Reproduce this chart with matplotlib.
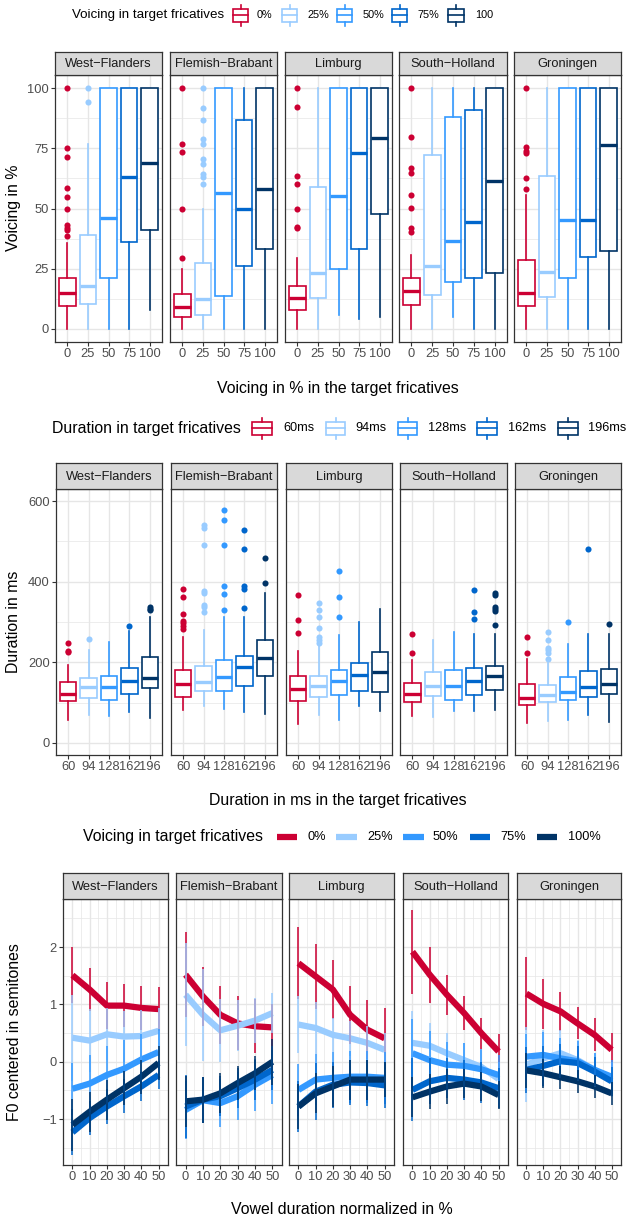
import matplotlib.pyplot as plt
from matplotlib.patches import Rectangle

plt.rcParams['font.family'] = ['Liberation Sans', 'DejaVu Sans']

W, H = 628, 1220

regions = ["West-Flanders", "Flemish-Brabant", "Limburg", "South-Holland", "Groningen"]
level_colours = ["#CC0033", "#99CCFF", "#3399FF", "#0066CC", "#003366"]

voicing_ticks = ["0", "25", "50", "75", "100"]
voicing_legend = ["0%", "25%", "50%", "75%", "100"]
duration_ticks = ["60", "94", "128", "162", "196"]
duration_legend = ["60ms", "94ms", "128ms", "162ms", "196ms"]
f0_legend = ["0%", "25%", "50%", "75%", "100%"]

# box summaries per level: whisker low, Q1, median, Q3, whisker high
voicing_box = {
    "West-Flanders": [[0, 9.6, 14.7, 20.9, 35.5], [0, 10.3, 17.6, 38.8, 76.8], [0, 20.9, 45.9, 100, 100],
                      [0, 36.2, 62.9, 100, 100], [7.6, 41.1, 68.9, 100, 100]],
    "Flemish-Brabant": [[0, 5.0, 9.2, 14.4, 24.8], [0, 5.8, 12.5, 27.4, 49.8], [0, 13.8, 56.3, 100, 100],
                        [0, 26.1, 49.8, 86.8, 100], [0, 33.3, 58.3, 100, 100]],
    "Limburg": [[0, 8.0, 12.8, 17.6, 29.3], [0, 12.7, 23.0, 59.1, 100], [5.9, 24.9, 55.2, 100, 100],
                [4.1, 33.1, 73.2, 100, 100], [4.8, 47.6, 79.5, 100, 100]],
    "South-Holland": [[0, 10.0, 15.8, 21.3, 30.5], [0, 13.9, 26.1, 72.4, 100], [4.8, 19.3, 36.5, 88.0, 100],
                      [0, 21.0, 44.4, 90.8, 100], [0, 23.0, 61.6, 100, 100]],
    "Groningen": [[0, 9.4, 14.7, 28.6, 55.6], [0, 13.2, 23.5, 63.7, 100], [0, 21.3, 45.4, 100, 100],
                  [0, 29.8, 45.1, 100, 100], [0, 32.5, 76.3, 100, 100]],
}
voicing_fliers = {
    "West-Flanders": [[100, 75, 71.4, 58.5, 54.6, 50, 43, 42, 41, 38.5], [100, 94.1], [], [], []],
    "Flemish-Brabant": [[100, 76.9, 73.6, 50, 29.4],
                        [100, 91.6, 86.9, 79, 76.8, 70.4, 68.4, 64.2, 62.9, 60], [], [], []],
    "Limburg": [[100, 92.3, 63.5, 60, 50, 42.5, 42], [], [], [], []],
    "South-Holland": [[100, 79.9, 66.9, 64.6, 55.6, 50.1, 42, 40.2], [], [], [], []],
    "Groningen": [[100, 75.4, 74.1, 72.9, 62.6, 58.3], [], [], [], []],
}

duration_box = {
    "West-Flanders": [[57.7, 103, 122, 151.6, 193.7], [70, 111, 137.6, 160, 230.8], [67.6, 107, 137.6, 166.5, 250],
                      [75.8, 122, 154, 187, 277.7], [61.8, 136, 160.7, 212.6, 313]],
    "Flemish-Brabant": [[82.4, 115, 146.7, 179.7, 263.7], [92, 127.8, 151.7, 191, 280], [84, 129.4, 163, 206, 313],
                        [75.8, 141.8, 188, 216.8, 311.5], [71.7, 164.8, 210, 255.5, 371]],
    "Limburg": [[47.8, 104.7, 133.5, 164.8, 228], [70, 115, 141.8, 166.5, 240], [56, 119.5, 154, 181, 268],
                [92, 127.8, 169, 197.8, 299], [78.3, 126, 177, 226.7, 332]],
    "South-Holland": [[66, 100.5, 122, 148, 206], [64, 117, 141.8, 174.7, 255.5], [78.3, 105.5, 141.8, 179.7, 274.5],
                      [78.3, 119.5, 152.5, 185.4, 269.5], [82.4, 131.9, 164.8, 191, 269.5]],
    "Groningen": [[49.5, 94, 111, 145, 208.5], [53.6, 101, 119.5, 142.6, 198], [57.7, 106.3, 126, 163, 244.8],
                  [69, 113, 138.5, 178.9, 270], [51, 121, 146.7, 184.6, 269.5]],
}
duration_fliers = {
    "West-Flanders": [[248.9, 229, 225], [257], [], [290], [338, 333, 329]],
    "Flemish-Brabant": [[381.6, 361, 320, 303, 296.7, 290, 282], [540, 534, 490, 378, 373, 342, 336, 325],
                        [577, 554, 491, 389, 370, 331], [527.5, 480, 389, 382, 333.8], [459, 397]],
    "Limburg": [[368, 305, 273.6], [346, 330, 313, 284, 264, 255.5, 249], [426, 362.6, 313], [], []],
    "South-Holland": [[269.5, 224], [], [], [379, 325, 306.6], [371, 368, 338, 333, 326.4, 291.8]],
    "Groningen": [[262, 224], [275, 255.5, 235, 230.8, 222.5, 207.7], [300.8], [480], [296]],
}

f0_time = [0, 10, 20, 30, 40, 50]
f0_mean = {
    "West-Flanders": [[1.51, 1.26, 0.98, 0.98, 0.94, 0.92], [0.42, 0.37, 0.48, 0.44, 0.45, 0.54],
                      [-0.47, -0.38, -0.23, -0.12, 0.04, 0.17], [-1.23, -0.98, -0.78, -0.6, -0.43, -0.23],
                      [-1.1, -0.87, -0.66, -0.46, -0.26, -0.02]],
    "Flemish-Brabant": [[1.52, 1.14, 0.82, 0.67, 0.62, 0.6], [1.17, 0.82, 0.55, 0.63, 0.72, 0.85],
                        [-0.84, -0.67, -0.72, -0.6, -0.4, -0.23], [-0.78, -0.66, -0.6, -0.46, -0.31, -0.14],
                        [-0.69, -0.66, -0.55, -0.37, -0.2, 0.0]],
    "Limburg": [[1.72, 1.49, 1.26, 0.82, 0.56, 0.41], [0.65, 0.59, 0.47, 0.41, 0.33, 0.21],
                [-0.49, -0.31, -0.28, -0.26, -0.26, -0.28], [-0.78, -0.52, -0.4, -0.36, -0.37, -0.41],
                [-0.78, -0.55, -0.43, -0.31, -0.31, -0.31]],
    "South-Holland": [[1.92, 1.52, 1.17, 0.85, 0.5, 0.18], [0.33, 0.28, 0.15, 0.03, -0.09, -0.3],
                      [0.15, 0.03, -0.05, -0.07, -0.13, -0.23], [-0.49, -0.34, -0.28, -0.31, -0.36, -0.46],
                      [-0.62, -0.52, -0.43, -0.38, -0.43, -0.58]],
    "Groningen": [[1.19, 1.01, 0.88, 0.67, 0.47, 0.21], [-0.05, 0.06, 0.15, 0.03, -0.14, -0.31],
                  [0.09, 0.12, 0.06, 0.01, -0.14, -0.26], [-0.14, -0.07, 0.01, -0.02, -0.17, -0.34],
                  [-0.15, -0.2, -0.27, -0.34, -0.43, -0.55]],
}
# half length of the error bars
f0_err = {
    "West-Flanders": [[0.49, 0.37, 0.41, 0.38, 0.38, 0.38], [0.75, 0.55, 0.45, 0.45, 0.45, 0.4],
                      [0.45, 0.5, 0.5, 0.5, 0.45, 0.4], [0.4, 0.3, 0.3, 0.3, 0.25, 0.25],
                      [0.45, 0.35, 0.35, 0.3, 0.3, 0.3]],
    "Flemish-Brabant": [[0.74, 0.51, 0.51, 0.47, 0.47, 0.4], [0.9, 0.8, 0.55, 0.45, 0.4, 0.35],
                        [0.5, 0.4, 0.42, 0.42, 0.45, 0.5], [0.55, 0.4, 0.35, 0.35, 0.35, 0.35],
                        [0.45, 0.4, 0.35, 0.3, 0.3, 0.4]],
    "Limburg": [[0.63, 0.57, 0.51, 0.51, 0.51, 0.53], [0.5, 0.45, 0.3, 0.3, 0.3, 0.3],
                [0.45, 0.45, 0.45, 0.45, 0.45, 0.45], [0.45, 0.5, 0.4, 0.4, 0.4, 0.4],
                [0.4, 0.35, 0.35, 0.35, 0.35, 0.3]],
    "South-Holland": [[0.73, 0.49, 0.35, 0.3, 0.27, 0.31], [0.55, 0.4, 0.35, 0.3, 0.3, 0.3],
                      [0.6, 0.5, 0.4, 0.4, 0.35, 0.35], [0.55, 0.4, 0.35, 0.35, 0.35, 0.35],
                      [0.35, 0.3, 0.3, 0.25, 0.25, 0.25]],
    "Groningen": [[0.64, 0.44, 0.34, 0.28, 0.29, 0.3], [0.65, 0.5, 0.4, 0.35, 0.3, 0.3],
                  [0.4, 0.4, 0.35, 0.35, 0.3, 0.3], [0.4, 0.35, 0.3, 0.3, 0.25, 0.25],
                  [0.3, 0.25, 0.2, 0.2, 0.2, 0.2]],
}

GRID = '#E6E6E6'
BORDER = '#333333'
TICKTXT = '#4D4D4D'

fig = plt.figure(figsize=(W / 100, H / 100), dpi=100)

# overlay in pixel units for legends and axis titles
ov = fig.add_axes([0, 0, 1, 1], zorder=5)
ov.set_xlim(0, W)
ov.set_ylim(H, 0)
ov.axis('off')


def make_panel(x0, x1, strip_top, y0, y1, name):
    ax = fig.add_axes([x0 / W, 1 - y1 / H, (x1 - x0) / W, (y1 - y0) / H])
    st = fig.add_axes([x0 / W, 1 - y0 / H, (x1 - x0) / W, (y0 - strip_top) / H])
    st.set_facecolor('#D9D9D9')
    st.set_xticks([])
    st.set_yticks([])
    for s in st.spines.values():
        s.set_color(BORDER)
        s.set_linewidth(0.9)
    st.text(0.5, 0.47, name.replace('-', '\u2212'), ha='center', va='center',
            fontsize=9.3, color='#1A1A1A', transform=st.transAxes)
    for s in ax.spines.values():
        s.set_color(BORDER)
        s.set_linewidth(0.9)
    ax.set_axisbelow(True)
    ax.tick_params(which='major', length=2.8, width=0.8, color=BORDER,
                   labelcolor=TICKTXT, labelsize=9.3, pad=1.6)
    ax.tick_params(which='minor', length=0)
    return ax


def hide_y(ax, i):
    if i > 0:
        ax.tick_params(axis='y', which='both', left=False, labelleft=False)


def box_panels(xs, strip_top, y0, y1, boxes, fliers, ylim, yticks, yminor, xticklabels):
    for i, (reg, (x0, x1)) in enumerate(zip(regions, xs)):
        ax = make_panel(x0, x1, strip_top, y0, y1, reg)
        for k, c in enumerate(level_colours):
            lo, q1, med, q3, hi = boxes[reg][k]
            stats = dict(whislo=lo, q1=q1, med=med, q3=q3, whishi=hi, fliers=fliers[reg][k])
            ax.bxp([stats], positions=[k], widths=0.8, showcaps=False, patch_artist=True,
                   boxprops=dict(facecolor='white', edgecolor=c, linewidth=1.2),
                   medianprops=dict(color=c, linewidth=2.4, solid_capstyle='butt'),
                   whiskerprops=dict(color=c, linewidth=1.2),
                   flierprops=dict(marker='o', markerfacecolor=c, markeredgecolor=c,
                                   markersize=4.4, markeredgewidth=0))
        ax.set_xlim(-0.6, 4.6)
        ax.set_ylim(*ylim)
        ax.set_xticks(range(5))
        ax.set_xticklabels(xticklabels)
        ax.set_yticks(yticks)
        ax.set_yticks(yminor, minor=True)
        ax.grid(which='major', color=GRID, linewidth=1.0)
        ax.grid(which='minor', axis='y', color=GRID, linewidth=0.5)
        hide_y(ax, i)


def box_key(x0, x1, yc, c):
    ov.add_patch(Rectangle((x0, yc - 6.5), x1 - x0, 13, fill=False, edgecolor=c, linewidth=1.2))
    ov.plot([x0, x1], [yc, yc], color=c, lw=1.2)
    xm = (x0 + x1) / 2
    ov.plot([xm, xm], [yc - 6.5, yc - 10.5], color=c, lw=1.2)
    ov.plot([xm, xm], [yc + 6.5, yc + 10.5], color=c, lw=1.2)


# voicing boxplots
box_panels([(55, 162), (170, 277), (285, 392), (399, 507), (514, 621)], 52, 75, 342,
           voicing_box, voicing_fliers, (-5.5, 105.5), [0, 25, 50, 75, 100],
           [12.5, 37.5, 62.5, 87.5], voicing_ticks)
ov.text(72, 15, "Voicing in target fricatives", fontsize=9.6, va='center', ha='left')
for (a, b), lx, lab, c in zip([(233, 248), (282, 297), (337, 352), (392, 407), (448, 464)],
                              [257, 307, 363, 418, 475], voicing_legend, level_colours):
    box_key(a, b, 15, c)
    ov.text(lx, 15, lab, fontsize=7.8, va='center', ha='left')
ov.text(338, 388, "Voicing in % in the target fricatives", fontsize=11.4, ha='center', va='center')
ov.text(14, 208, "Voicing in %", fontsize=11.4, ha='center', va='center', rotation=90)

# duration boxplots
box_panels([(56, 162), (171, 277), (286, 392), (400, 507), (515, 621)], 463, 489, 755,
           duration_box, duration_fliers, (-30, 630), [0, 200, 400, 600],
           [100, 300, 500], duration_ticks)
ov.text(52, 428, "Duration in target fricatives", fontsize=11.4, va='center', ha='left')
for (a, b), lx, lab, c in zip([(252, 272), (326, 345), (398, 417), (477, 497), (558, 578)],
                              [283, 355, 428, 508, 588], duration_legend, level_colours):
    box_key(a, b, 428, c)
    ov.text(lx, 428, lab, fontsize=9.2, va='center', ha='left')
ov.text(338, 800, "Duration in ms in the target fricatives", fontsize=11.4, ha='center', va='center')
ov.text(14, 622, "Duration in ms", fontsize=11.4, ha='center', va='center', rotation=90)

# F0 contours with error bars
for i, (reg, (x0, x1)) in enumerate(zip(regions, [(63, 168), (176, 282), (289, 394), (403, 508), (517, 621)])):
    ax = make_panel(x0, x1, 873, 899, 1165, reg)
    for k, c in enumerate(level_colours):
        ax.plot(f0_time, f0_mean[reg][k], color=c, lw=4.5, solid_capstyle='butt',
                solid_joinstyle='round', zorder=2)
    for k, c in enumerate(level_colours):
        lo = [m - e for m, e in zip(f0_mean[reg][k], f0_err[reg][k])]
        hi = [m + e for m, e in zip(f0_mean[reg][k], f0_err[reg][k])]
        ax.vlines(f0_time, lo, hi, color=c, lw=1.3, alpha=0.85, zorder=3)
    ax.set_xlim(-5.5, 55.5)
    ax.set_ylim(-1.80, 2.84)
    ax.set_xticks(f0_time)
    ax.set_xticks([5, 15, 25, 35, 45], minor=True)
    ax.set_yticks([-1, 0, 1, 2])
    ax.set_yticks([-1.5, -0.5, 0.5, 1.5, 2.5], minor=True)
    ax.grid(which='major', color=GRID, linewidth=1.0)
    ax.grid(which='minor', color=GRID, linewidth=0.5)
    hide_y(ax, i)

ov.text(83, 837, "Voicing in target fricatives", fontsize=11.4, va='center', ha='left')
for (a, b), lx, lab, c in zip([(277, 297), (336, 357), (403, 424), (470, 490), (537, 557)],
                              [307, 367, 433, 500, 568], f0_legend, level_colours):
    ov.plot([a, b], [837, 837], color=c, lw=4.5, solid_capstyle='butt')
    ov.text(lx, 837, lab, fontsize=9.2, va='center', ha='left')
ov.text(342, 1210, "Vowel duration normalized in %", fontsize=11.4, ha='center', va='center')
ov.text(15, 1032, "F0 centered in semitones", fontsize=11.4, ha='center', va='center', rotation=90)

fig.savefig('out.png', dpi=100)
